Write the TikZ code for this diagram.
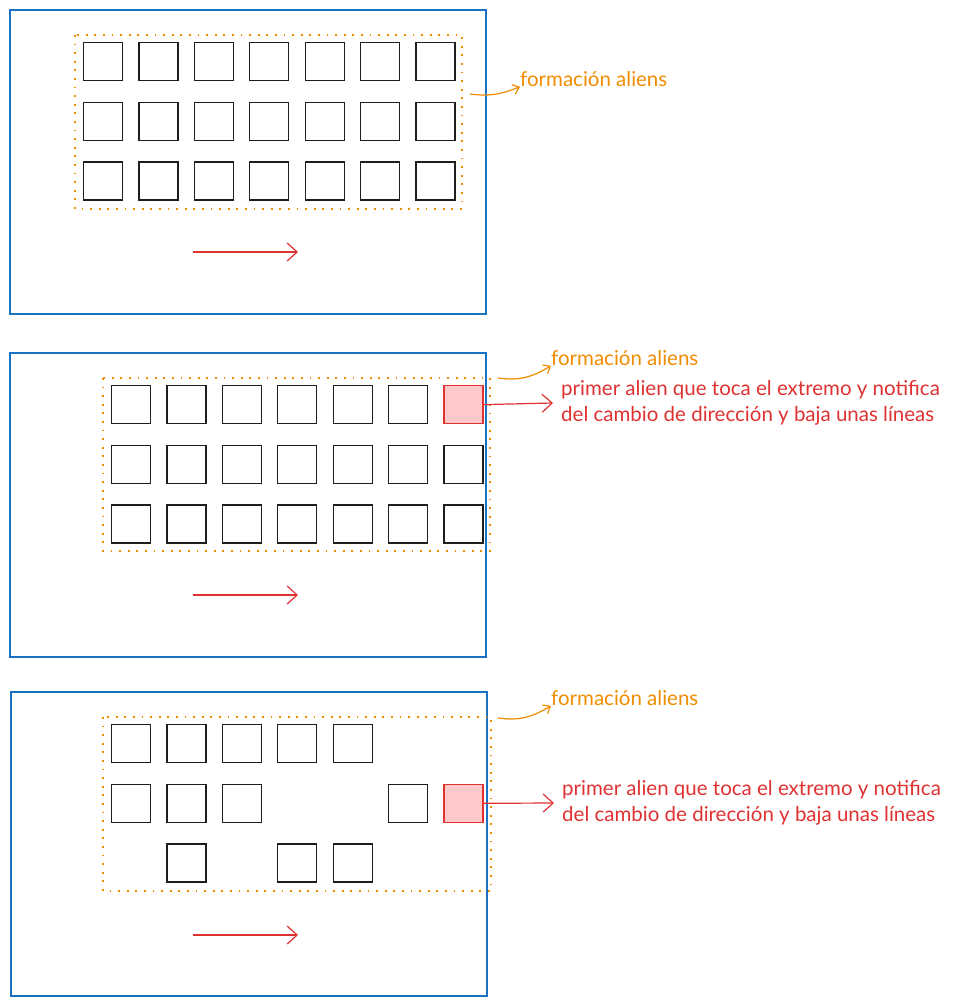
\documentclass[tikz,border=0pt]{standalone}
\usepackage{xcolor}
\usepackage{fontspec}
\setmainfont{Lato}
\usepackage{tikz}
\usetikzlibrary{arrows.meta}

\definecolor{frameblue}{HTML}{1971C2}
\definecolor{groupor}{HTML}{F08C00}
\definecolor{hitred}{HTML}{E03131}
\definecolor{hitfill}{HTML}{FFC9C9}
\definecolor{ink}{HTML}{1E1E1E}

\tikzset{
    alien/.style={draw=ink, line width=1.2pt, minimum width=39pt, minimum height=38pt, inner sep=0pt, anchor=north west},
    hitalien/.style={alien, draw=hitred, fill=hitfill},
    screen/.style={draw=frameblue, line width=1.2pt},
    formation/.style={draw=groupor, line width=1.8pt, dash pattern=on 1.8pt off 6.8pt},
    grouplabel/.style={text=groupor, font=\fontsize{20.5}{24}\selectfont, anchor=west, inner sep=0pt},
    hitlabel/.style={text=hitred, font=\fontsize{20.5}{26}\selectfont, align=left, anchor=west, inner sep=0pt},
    pointer/.style={draw=groupor, line width=1.2pt, -{Straight Barb[length=6pt, width=10pt]}},
    move/.style={draw=hitred, line width=1.2pt, -{Straight Barb[length=10pt, width=18pt]}},
    notify/.style={draw=hitred, line width=1.2pt, -{Straight Barb[length=10pt, width=18pt]}}
}

\begin{document}
\begin{tikzpicture}[x=1pt, y=-1pt]
    \useasboundingbox (0, 0) rectangle (955, 1006);

    % first frame
    \draw [screen, line width=1.8pt] (10, 10) rectangle (486, 314);
    \draw [formation] (75, 35) rectangle (462, 209);
    \foreach \r in {1, 2, 3}
        \foreach \c in {1, ..., 7}
            \node [alien] (a-\r-\c) at ({83 + 55.4*(\c - 1)}, {42 + 59.7*(\r - 1)}) {};
    \coordinate (a-grp) at (470, 94);
    \node [grouplabel] (a-lbl) at (520, 79) {formación aliens};
    \draw [pointer] (a-grp) .. controls (492, 97) and (504, 93) .. (a-lbl.south west);
    \coordinate (a-from) at (193, 252);
    \coordinate (a-to) at (298, 252);
    \draw [move] (a-from) -- (a-to);

    % second frame
    \draw [screen] (10, 353) rectangle (486, 657);
    \draw [formation] (103, 378) rectangle (490, 551);
    \foreach \r in {1, 2, 3}
        \foreach \c in {1, ..., 7}
            \node [alien] (b-\r-\c) at ({111 + 55.4*(\c - 1)}, {385 + 59.7*(\r - 1)}) {};
    \node [hitalien] at (b-1-7.north west) {};
    \coordinate (b-grp) at (498, 378);
    \node [grouplabel] (b-lbl) at (551, 358) {formación aliens};
    \draw [pointer] (b-grp) .. controls (520, 381) and (532, 377) .. (b-lbl.south west);
    \node [hitlabel] (b-hit) at (561, 403) {primer alien que toca el extremo y notifica\\del cambio de dirección y baja unas líneas};
    \draw [notify] (b-1-7.east) -- ([xshift=-8pt] b-hit.west);
    \coordinate (b-from) at (193, 595);
    \coordinate (b-to) at (298, 595);
    \draw [move] (b-from) -- (b-to);

    % third frame
    \draw [screen] (11, 692) rectangle (487, 996);
    \draw [formation] (103, 717) rectangle (491, 891);
    \foreach \r/\c in {1/1, 1/2, 1/3, 1/4, 1/5, 2/1, 2/2, 2/3, 2/6, 3/2, 3/4, 3/5}
        \node [alien] (c-\r-\c) at ({111 + 55.4*(\c - 1)}, {724 + 59.7*(\r - 1)}) {};
    \node [hitalien] (c-2-7) at ({111 + 55.4*6}, {724 + 59.7}) {};
    \coordinate (c-grp) at (498, 718);
    \node [grouplabel] (c-lbl) at (551, 698) {formación aliens};
    \draw [pointer] (c-grp) .. controls (520, 721) and (532, 717) .. (c-lbl.south west);
    \node [hitlabel] (c-hit) at (562, 803) {primer alien que toca el extremo y notifica\\del cambio de dirección y baja unas líneas};
    \draw [notify] (c-2-7.east) -- ([xshift=-8pt] c-hit.west);
    \coordinate (c-from) at (193, 935);
    \coordinate (c-to) at (298, 935);
    \draw [move] (c-from) -- (c-to);

\end{tikzpicture}
\end{document}
